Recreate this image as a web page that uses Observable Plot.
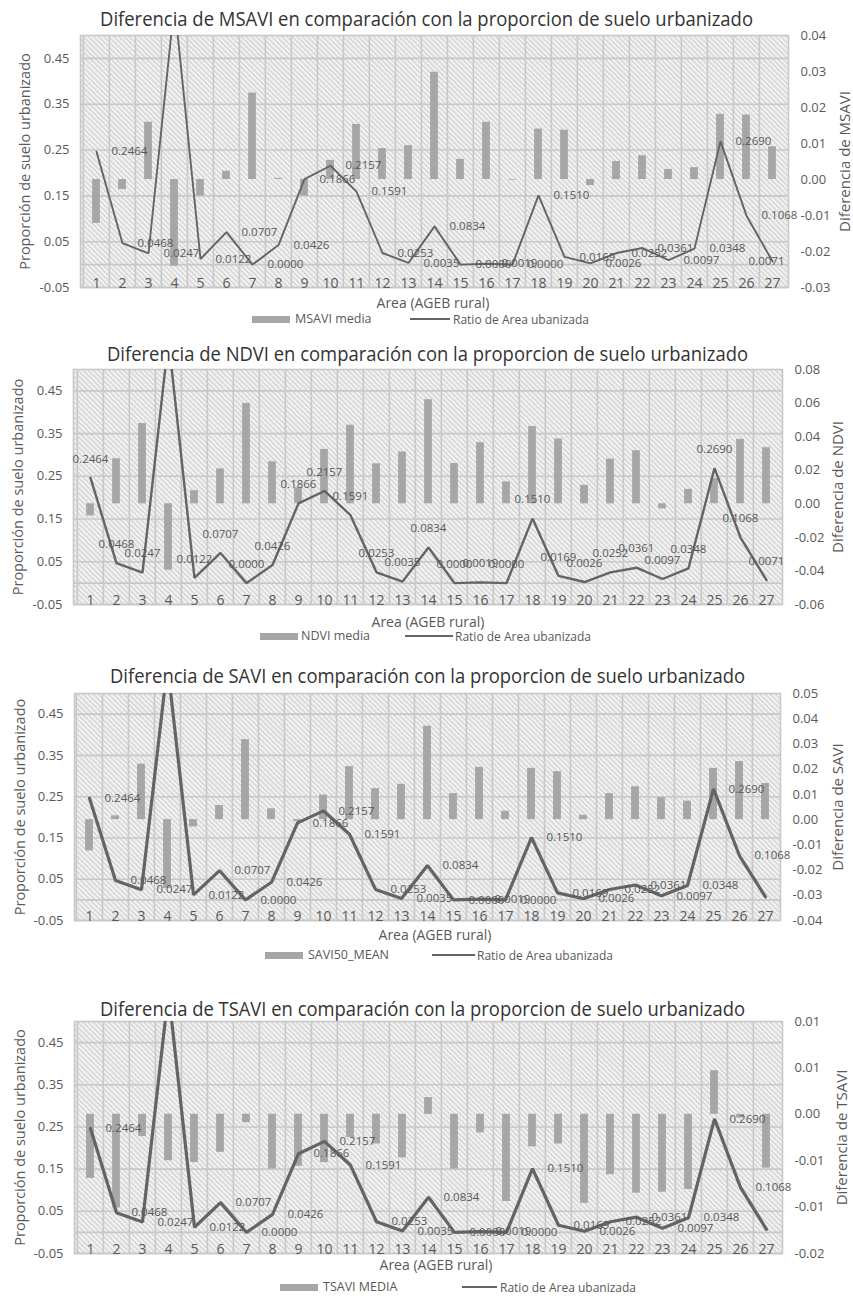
<!DOCTYPE html>
<html>
<head>
<meta charset="utf-8">
<script src="https://cdn.jsdelivr.net/npm/d3@7"></script>
<script src="https://cdn.jsdelivr.net/npm/@observablehq/plot@0.6"></script>
<style>
  body { margin: 0; background: #fff; }
  #root { position: relative; width: 853px; height: 1296px; overflow: hidden; font-family: "Open Sans", sans-serif; color: #595959; }
  .abs { position: absolute; white-space: nowrap; }
</style>
</head>
<body>
<div id="root"></div>
<script>
// ---------------- DATA ----------------
const categories = [1,2,3,4,5,6,7,8,9,10,11,12,13,14,15,16,17,18,19,20,21,22,23,24,25,26,27];

// Ratio de Area urbanizada (left axis), same series in all four charts
const ratio = [0.2464,0.0468,0.0247,0.57,0.0122,0.0707,0.0000,0.0426,0.1866,0.2157,0.1591,0.0253,0.0035,0.0834,0.0000,0.0019,0.0000,0.1510,0.0169,0.0026,0.0252,0.0361,0.0097,0.0348,0.2690,0.1068,0.0071];

// Bar series (right axis)
const msavi = [-0.0122,-0.0028,0.0159,-0.0241,-0.0046,0.0023,0.0240,0.0003,-0.0046,0.0053,0.0153,0.0086,0.0094,0.0298,0.0056,0.0159,-0.0002,0.0140,0.0137,-0.0017,0.0050,0.0066,0.0028,0.0033,0.0181,0.0179,0.0091];
const ndvi  = [-0.0072,0.0268,0.0478,-0.0396,0.0078,0.0208,0.0598,0.0250,0.0095,0.0324,0.0468,0.0238,0.0308,0.0620,0.0240,0.0364,0.0130,0.0460,0.0386,0.0110,0.0266,0.0316,-0.0030,0.0086,0.0150,0.0384,0.0334];
const savi  = [-0.0124,0.0015,0.0220,-0.0273,-0.0029,0.0056,0.0317,0.0043,-0.0008,0.0097,0.0210,0.0123,0.0140,0.0370,0.0103,0.0207,0.0033,0.0203,0.0190,0.0017,0.0103,0.0130,0.0087,0.0073,0.0203,0.0230,0.0143];
const tsavi = [-0.0069,-0.0101,-0.0024,-0.0050,-0.0052,-0.0041,-0.0009,-0.0059,-0.0056,-0.0052,-0.0025,-0.0032,-0.0047,0.0018,-0.0059,-0.0020,-0.0094,-0.0035,-0.0032,-0.0096,-0.0065,-0.0085,-0.0084,-0.0081,0.0047,-0.0004,-0.0058];

// Axes
const leftDomain = [-0.05, 0.5];
const leftTicks = [-0.05, 0.05, 0.15, 0.25, 0.35, 0.45];
const leftTickLabels = ["-0.05", "0.05", "0.15", "0.25", "0.35", "0.45"];

const msaviDomain = [-0.03, 0.04];
const msaviTicks = [-0.03, -0.02, -0.01, 0, 0.01, 0.02, 0.03, 0.04];
const msaviTickLabels = ["-0.03", "-0.02", "-0.01", "0.00", "0.01", "0.02", "0.03", "0.04"];
const ndviDomain = [-0.06, 0.08];
const ndviTicks = [-0.06, -0.04, -0.02, 0, 0.02, 0.04, 0.06, 0.08];
const ndviTickLabels = ["-0.06", "-0.04", "-0.02", "0.00", "0.02", "0.04", "0.06", "0.08"];
const saviDomain = [-0.04, 0.05];
const saviTicks = [-0.04, -0.03, -0.02, -0.01, 0, 0.01, 0.02, 0.03, 0.04, 0.05];
const saviTickLabels = ["-0.04", "-0.03", "-0.02", "-0.01", "0.00", "0.01", "0.02", "0.03", "0.04", "0.05"];
const tsaviDomain = [-0.015, 0.01];
const tsaviTicks = [-0.015, -0.01, -0.005, 0, 0.005, 0.01];
const tsaviTickLabels = ["-0.02", "-0.01", "-0.01", "0.00", "0.01", "0.01"];

// Texts
const titles = [
  "Diferencia de MSAVI en comparación con la proporcion de suelo urbanizado",
  "Diferencia de NDVI en comparación con la proporcion de suelo urbanizado",
  "Diferencia de SAVI en comparación con la proporcion de suelo urbanizado",
  "Diferencia de TSAVI en comparación con la proporcion de suelo urbanizado"
];
const rightTitles = ["Diferencia de MSAVI", "Diferencia de NDVI", "Diferencia de SAVI", "Diferencia de TSAVI"];
const barNames = ["MSAVI media", "NDVI media", "SAVI50_MEAN", "TSAVI MEDIA"];
const lineName = "Ratio de Area ubanizada";
const leftTitle = "Proporción de suelo urbanizado";
const xTitle = "Area (AGEB rural)";

// ---------------- LAYOUT ----------------
const W = 853;
const BAR = "#a6a6a6", LINE = "#646464", TXT = "#595959";
const panels = [
  { values: msavi, rDomain: msaviDomain, rTicks: msaviTicks, rLabels: msaviTickLabels,
    L: { titleY: 18, tx0: 100, tx1: 753, top: 35, bottom: 287, left: 80, right: 788, xTitleY: 303, xTitleX: 433,
         legY: 319, sw1: [252, 290], t1: 295, sw2: [410, 450], t2: 453, lLabX: 25, rLabX: 845 },
    mode: "right", lw: 1.9, lastLabelLeft: true },
  { values: ndvi, rDomain: ndviDomain, rTicks: ndviTicks, rLabels: ndviTickLabels,
    L: { titleY: 353, tx0: 107, tx1: 748, top: 369, bottom: 604, left: 73, right: 782, xTitleY: 622, xTitleX: 428,
         legY: 636, sw1: [260, 298], t1: 301, sw2: [405, 453], t2: 455, lLabX: 18, rLabX: 838 },
    mode: "above", lw: 2.4, lastLabelLeft: false },
  { values: savi, rDomain: saviDomain, rTicks: saviTicks, rLabels: saviTickLabels,
    L: { titleY: 675, tx0: 110, tx1: 745, top: 693, bottom: 920, left: 74, right: 780, xTitleY: 935, xTitleX: 435,
         legY: 955, sw1: [265, 303], t1: 308, sw2: [432, 475], t2: 477, lLabX: 20, rLabX: 838 },
    mode: "right", lw: 3.2, lastLabelLeft: false },
  { values: tsavi, rDomain: tsaviDomain, rTicks: tsaviTicks, rLabels: tsaviTickLabels,
    L: { titleY: 1008, tx0: 100, tx1: 745, top: 1021, bottom: 1253, left: 74, right: 782, xTitleY: 1265, xTitleX: 436,
         legY: 1287, sw1: [280, 318], t1: 323, sw2: [462, 497], t2: 500, lLabX: 20, rLabX: 842 },
    mode: "right", lw: 3.2, lastLabelLeft: false }
];

const root = document.getElementById("root");

function addText(txt, x, y, size, align = "left", color = TXT) {
  const d = document.createElement("div");
  d.className = "abs";
  d.textContent = txt;
  const lh = Math.round(size * 1.4);
  d.style.fontSize = size + "px";
  d.style.lineHeight = lh + "px";
  d.style.top = (y - lh / 2) + "px";
  d.style.left = x + "px";
  d.style.color = color;
  if (align === "center") d.style.transform = "translateX(-50%)";
  root.appendChild(d);
}
function addBox(x0, x1, y, h, color) {
  const d = document.createElement("div");
  d.className = "abs";
  d.style.left = x0 + "px";
  d.style.width = (x1 - x0) + "px";
  d.style.top = (y - h / 2) + "px";
  d.style.height = h + "px";
  d.style.background = color;
  root.appendChild(d);
}

panels.forEach((p, k) => {
  const L = p.L;
  // Title (svg text so it can be fitted to the reference width)
  const ts = d3.create("svg").attr("width", W).attr("height", 32)
    .style("position", "absolute").style("left", "0px").style("top", (L.titleY - 16) + "px");
  ts.append("text").attr("x", (L.tx0 + L.tx1) / 2).attr("y", 16)
    .attr("text-anchor", "middle").attr("dominant-baseline", "central")
    .attr("textLength", L.tx1 - L.tx0).attr("lengthAdjust", "spacingAndGlyphs")
    .style("font-family", "Open Sans, sans-serif").style("font-size", "19.5px").style("fill", "#333")
    .text(titles[k]);
  root.appendChild(ts.node());

  // right-axis values expressed in left-axis units
  const [r0, r1] = p.rDomain;
  const toLeft = v => leftDomain[0] + (v - r0) / (r1 - r0) * (leftDomain[1] - leftDomain[0]);
  const rTickPos = p.rTicks.map(toLeft);

  const data = categories.map((c, i) => ({ c, ratio: ratio[i], bar: p.values[i], i }));
  const inFrame = data.filter(d => d.ratio <= leftDomain[1]);
  const mT = 4, mB = 4;
  const mL = L.left, mR = W - L.right;
  const bw = (L.right - L.left) / categories.length;
  const H = L.bottom - L.top + mT + mB;

  let labelMarks;
  if (p.mode === "above") {
    labelMarks = [Plot.text(inFrame, { x: "c", y: "ratio", text: d => d.ratio.toFixed(4), dy: -19, fontSize: 11.5, fill: TXT })];
  } else {
    const last = categories.length - 1;
    labelMarks = [Plot.text(inFrame.filter(d => d.i !== last), { x: "c", y: "ratio", text: d => d.ratio.toFixed(4), textAnchor: "start", dx: 15, fontSize: 11.5, fill: TXT })];
    if (p.lastLabelLeft) {
      labelMarks.push(Plot.text(inFrame.filter(d => d.i === last), { x: "c", y: "ratio", text: d => d.ratio.toFixed(4), textAnchor: "end", dx: 12, fontSize: 11.5, fill: TXT }));
    }
  }

  const chart = Plot.plot({
    width: W, height: H,
    marginLeft: mL, marginRight: mR, marginTop: mT, marginBottom: mB,
    x: { type: "band", domain: categories, padding: 0, axis: null },
    y: { domain: leftDomain, axis: null },
    style: { fontFamily: "Open Sans, sans-serif", fontSize: "12px", color: TXT, background: "transparent", overflow: "visible" },
    marks: [
      Plot.frame({ fill: `url(#hatch${k})`, stroke: "none" }),
      Plot.gridY(leftTicks, { stroke: "#c8c8c8", strokeOpacity: 1, strokeWidth: 1.6 }),
      Plot.ruleX(categories, { x: d => d, dx: -bw / 2, stroke: "#c8c8c8", strokeWidth: 1.6 }),
      Plot.ruleY([0], { stroke: "#c8c8c8", strokeWidth: 1.6 }),
      Plot.frame({ stroke: "#c8c8c8", strokeWidth: 1.6 }),
      Plot.barY(data, { x: "c", y1: toLeft(0), y2: d => toLeft(d.bar), fill: BAR, insetLeft: bw / 2 - 4, insetRight: bw / 2 - 4 }),
      Plot.line(data, { x: "c", y: "ratio", stroke: LINE, strokeWidth: p.lw, clip: true, strokeLinejoin: "miter" }),
      ...labelMarks,
      Plot.text(categories, { x: d => d, frameAnchor: "bottom", lineAnchor: "bottom", dy: 0, fontSize: 14, fill: TXT }),
      Plot.axisY(leftTicks, { anchor: "left", tickSize: 0, tickPadding: 11, fontSize: 13, fill: TXT,
        tickFormat: d => leftTickLabels[leftTicks.indexOf(d)], label: null }),
      Plot.axisY(rTickPos, { anchor: "right", tickSize: 0, tickPadding: 12, fontSize: 13, fill: TXT,
        tickFormat: d => p.rLabels[rTickPos.indexOf(d)], label: null }),
      Plot.text([leftTitle], { frameAnchor: "left", rotate: -90, textAnchor: "middle", lineAnchor: "middle", dx: L.lLabX - L.left, fontSize: 14.5, fill: TXT }),
      Plot.text([rightTitles[k]], { frameAnchor: "right", rotate: -90, textAnchor: "middle", lineAnchor: "middle", dx: L.rLabX - L.right, fontSize: 15, fill: TXT })
    ]
  });

  const svg = d3.select(chart);
  const defs = svg.insert("defs", ":first-child");
  const pat = defs.append("pattern").attr("id", `hatch${k}`).attr("patternUnits", "userSpaceOnUse")
    .attr("width", 3.6).attr("height", 3.6).attr("patternTransform", "rotate(-45)");
  pat.append("rect").attr("width", 3.6).attr("height", 3.6).attr("fill", "#f3f3f3");
  pat.append("line").attr("x1", 1).attr("y1", 0).attr("x2", 1).attr("y2", 3.6).attr("stroke", "#d2d2d2").attr("stroke-width", 1.4);

  chart.style.position = "absolute";
  chart.style.left = "0px";
  chart.style.top = (L.top - mT) + "px";
  chart.style.maxWidth = "none";
  root.appendChild(chart);

  // x-axis title and legend
  addText(xTitle, L.xTitleX, L.xTitleY, 14, "center");
  addBox(L.sw1[0], L.sw1[1], L.legY, 7, BAR);
  addText(barNames[k], L.t1, L.legY, 12.5);
  addBox(L.sw2[0], L.sw2[1], L.legY, 2.5, LINE);
  addText(lineName, L.t2, L.legY, 12);
});
</script>
</body>
</html>
